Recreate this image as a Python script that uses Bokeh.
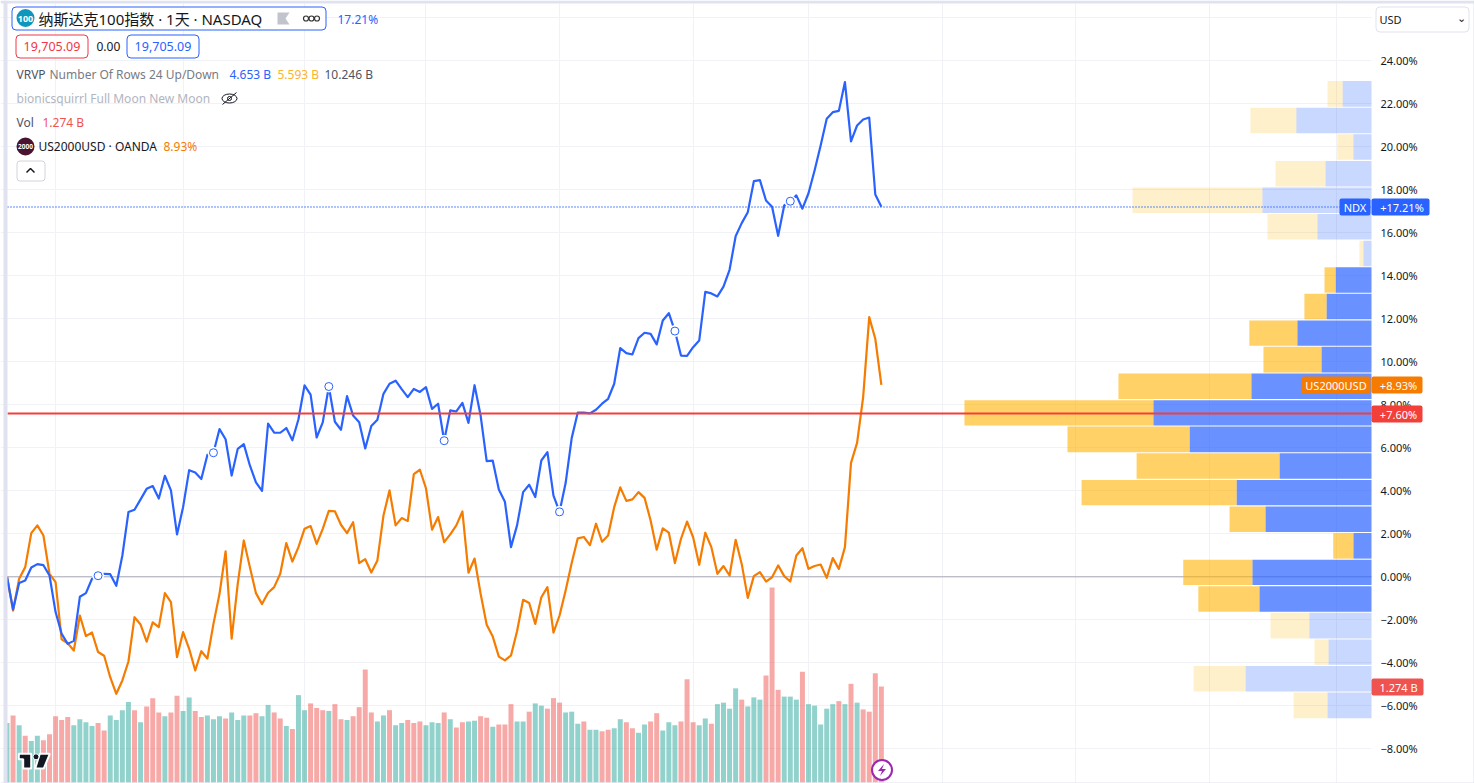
from bokeh.plotting import figure
from bokeh.embed import file_html
from bokeh.resources import INLINE
from bokeh.models import (Range1d, FixedTicker, Label, BoxAnnotation, ColumnDataSource)

# ---------- data ----------
ndx = [0.0,-1.52,-0.29,-0.17,0.43,0.59,0.54,0.06,-1.64,-2.65,
       -3.12,-2.98,-0.93,-0.76,-0.09,0.05,0.14,0.12,-0.42,0.99,
       3.01,3.12,3.6,4.09,4.22,3.64,4.7,4.02,1.97,3.24,
       4.96,4.85,4.55,5.67,5.77,6.87,6.40,4.71,5.95,6.17,
       5.18,4.39,4.0,7.12,6.71,6.70,6.92,6.35,7.33,8.90,
       8.47,6.48,7.18,8.85,7.21,6.84,8.40,7.5,7.19,5.97,
       7.01,7.30,8.51,8.98,9.12,8.73,8.36,8.74,8.60,8.82,
       7.81,8.05,6.33,7.74,7.69,8.09,7.16,8.91,7.50,5.38,
       5.40,4.06,3.49,1.38,2.39,3.94,4.28,3.71,5.41,5.80,
       3.78,3.02,4.36,6.45,7.64,7.64,7.60,7.77,8.05,8.28,
       8.98,10.64,10.40,10.34,11.10,11.35,11.30,10.81,11.92,12.26,
       11.43,10.29,10.28,10.68,10.99,13.25,13.18,13.04,13.50,14.28,
       15.84,16.45,16.96,18.40,18.45,17.50,17.21,15.86,17.27,17.47,
       17.74,17.12,17.84,18.90,20.06,21.30,21.61,21.67,23.01,20.25,
       20.99,21.27,21.36,17.78,17.21]
us2000 = [0.0,-1.57,-0.09,0.45,2.03,2.39,1.92,0.14,-0.25,-2.91,
          -3.09,-3.43,-1.80,-2.76,-2.59,-3.50,-3.67,-4.67,-5.44,-4.82,
          -3.94,-1.88,-2.22,-3.02,-2.12,-2.34,-0.76,-1.18,-3.74,-2.57,
          -3.35,-4.36,-3.46,-3.80,-2.19,-0.79,1.18,-2.88,-0.33,1.69,
          0.45,-0.76,-1.27,-0.74,-0.48,0.14,1.57,0.71,1.38,2.23,
          2.36,1.53,2.23,3.07,3.05,2.42,2.03,2.54,0.64,0.82,
          0.20,0.76,2.85,4.02,2.39,2.73,2.59,4.78,4.98,4.12,
          2.19,2.78,1.61,1.97,2.39,3.04,0.19,0.85,-0.79,-2.23,
          -2.78,-3.71,-3.89,-3.66,-2.53,-1.07,-1.22,-2.19,-0.95,-0.48,
          -2.60,-1.80,-0.64,0.64,1.79,1.85,1.47,2.47,1.63,1.92,
          3.24,4.16,3.53,3.60,3.94,3.67,2.62,1.26,2.25,2.05,
          0.64,1.77,2.57,1.84,0.56,2.05,1.38,0.14,0.50,0.06,
          1.72,0.60,-0.98,0.03,0.22,-0.22,-0.02,0.53,0.03,-0.22,
          0.99,1.33,0.37,0.50,0.57,-0.05,0.87,0.37,1.38,5.30,
          6.23,8.36,12.08,11.07,8.93]
volume = [.79,.89,.76,.62,.55,.62,.56,.64,.88,.83,
          .87,.76,.84,.80,.75,.79,.69,.89,.83,.96,
          1.07,.96,.80,1.01,1.12,.93,.88,.93,1.15,.95,
          1.13,.95,.87,.89,.84,.88,.85,.93,.83,.89,
          .89,.92,.88,1.03,.93,.85,.75,.71,1.16,.96,
          1.05,.99,.96,.95,1.04,.84,.83,.88,1.00,1.50,
          .93,.81,.89,.96,.76,.79,.83,.79,.81,.76,
          .80,.79,.93,.84,
          .73,.80,.81,.82,.88,.86,.74,.77,.77,1.04,
          .81,.81,.94,1.05,1.02,.98,1.12,1.06,.93,.94,
          .78,.81,.70,.70,.68,.70,.72,.84,.80,.72,
          .66,.77,.81,.92,.69,.80,.76,.81,1.37,.80,
          .76,.85,.78,1.04,1.06,.98,1.25,1.10,1.01,1.13,
          1.10,1.42,2.59,1.23,1.14,1.14,1.10,1.47,1.04,1.02,
          .77,.98,1.04,1.08,1.04,1.31,1.06,.97,.94,1.45,1.274]
vol_dir = ("grgrggrrrr" "rggggrrggg" "grgrrrgrrg" "grrgggrggg" "rrggrrgrgg"
           "rrrgrrgrrr" "rggrggrrrg" "ggrg"
           "rrggrrgrrr" "ggrggrrrgg" "grggrrggrr" "ggrrgggrrr" "ggrggggrgg"
           "grrrgggrgg" "gggrgrgrrrr")
moon_days = [15, 34, 53, 72, 91, 110, 129]
vp_edges = [23.08,21.84,20.61,19.37,18.13,16.90,15.66,14.42,13.19,11.95,10.72,9.48,8.24,
            7.01,5.77,4.53,3.30,2.06,0.82,-0.41,-1.65,-2.89,-4.12,-5.36,-6.60]
vp_up = [.086,.224,.054,.137,.325,.161,.024,.107,.134,.221,.149,.358,.650,.542,.274,.402,
         .316,.054,.355,.334,.185,.128,.375,.131]
vp_down = [.045,.137,.048,.149,.387,.149,.012,.033,.066,.143,.173,.396,.563,.364,.426,.462,
           .107,.060,.206,.182,.116,.042,.155,.101]
vp_value_area = [0,0,0,0,0,0,0,1,1,1,1,1,1,1,1,1,1,1,1,1,0,0,0,0]
tick_values = [-8,-6,-4,-2,0,2,4,6,8,10,12,14,16,18,20,22,24]
tick_labels = ["−8.00%","−6.00%","−4.00%","−2.00%","0.00%","2.00%","4.00%","6.00%","8.00%",
               "10.00%","12.00%","14.00%","16.00%","18.00%","20.00%","22.00%","24.00%"]
grid_days = [8,29,49,69,91,113,132,154,176,198,219]
last_ndx_line = 17.20
last_close_line = 7.60

BLUE, ORANGE, RED = "#2962ff", "#f57c00", "#f23f3a"
INK, FONT = "#131722", "Noto Sans"
TITLE_FONT = "'Noto Sans', 'Noto Sans CJK SC'"

# ---------- pixel model of the page ----------
W, H = 1474, 783
PANE_L, PANE_R, PANE_B = 7, 1371, 782
PX0, PXD = 6.5, 6.072          # pixel of day 0, pixels per day
PY0, PYD = 576.3, 21.5         # pixel of 0 %, pixels per 1 %
X = lambda px: (px - PX0) / PXD
Y = lambda py: (PY0 - py) / PYD
VOL_PX = 75.33                 # pixels per billion
VP_K = 0.00298                 # billions per pixel in the volume profile

p = figure(width=W, height=H, output_backend="svg", toolbar_location=None, tools="",
           x_range=Range1d(X(0), X(W)), y_range=Range1d(Y(H), Y(0)),
           x_axis_location=None, y_axis_location="right",
           min_border_left=0, min_border_right=0, min_border_top=0, min_border_bottom=0,
           background_fill_color="white", border_fill_color="white", outline_line_color=None,
           styles={"position": "absolute", "left": "0px", "top": "0px"})

p.extra_y_ranges = {"vol": Range1d((PANE_B - H) / VOL_PX, PANE_B / VOL_PX)}
p.extra_x_ranges = {"vp": Range1d(PANE_R * VP_K, (PANE_R - W) * VP_K)}

# axis and grids
ax = p.yaxis[0]
ax.fixed_location = X(PANE_R)
ax.ticker = FixedTicker(ticks=tick_values)
ax.major_label_overrides = dict(zip(tick_values, tick_labels))
ax.axis_line_color = None
ax.major_tick_line_color = None
ax.minor_tick_line_color = None
ax.major_tick_out = 0
ax.major_label_standoff = 9
ax.major_label_text_color = INK
ax.major_label_text_font = FONT
ax.major_label_text_font_size = "11px"

GRID = "#f1f2f5"
p.ygrid[0].ticker = FixedTicker(ticks=tick_values + [26])
p.ygrid[0].grid_line_color = GRID
p.xgrid[0].ticker = FixedTicker(ticks=grid_days)
p.xgrid[0].grid_line_color = GRID


def box(l, t, r, b, fill="white", line=None, radius=0, width=1, level="annotation"):
    p.add_layout(BoxAnnotation(left=l, right=r, top=t, bottom=b, left_units="canvas", right_units="canvas",
                               top_units="canvas", bottom_units="canvas", fill_color=fill, fill_alpha=1,
                               line_color=line, line_alpha=1 if line else 0, line_width=width,
                               border_radius=radius, level=level, editable=False))


def txt(x, y, s, color=INK, size=12, font=FONT, align="left", style="normal"):
    p.add_layout(Label(x=x, y=y, x_units="canvas", y_units="canvas", text=s, text_color=color,
                       text_font=font, text_font_size=f"{size}px", text_align=align,
                       text_baseline="middle", text_font_style=style, level="annotation"))


# price-scale column hides the grid
box(PANE_R, 0, W, H, "white", level="underlay")

pane_x = [X(PANE_L), X(PANE_R)]
# zero line
p.line(pane_x, [0, 0], line_color="#a7a9b6", line_width=1)

# volume bars
days = list(range(len(ndx)))
bar_src = ColumnDataSource(dict(x=days, top=volume,
                                c=["#26a69a" if d == "g" else "#ef5350" for d in vol_dir]))
p.vbar(x="x", top="top", bottom=0, width=0.82, source=bar_src, fill_color="c", fill_alpha=0.5,
       line_color=None, y_range_name="vol")

# volume profile
pad = 0.025
vp_src = ColumnDataSource(dict(
    top=[e - pad for e in vp_edges[:-1]], bottom=[e + pad for e in vp_edges[1:]],
    up=vp_up, total=[u + d for u, d in zip(vp_up, vp_down)],
    a_up=[0.7 if v else 0.25 for v in vp_value_area],
    a_down=[0.6 if v else 0.2 for v in vp_value_area]))
p.quad(left=0, right="up", top="top", bottom="bottom", source=vp_src, x_range_name="vp",
       fill_color=BLUE, fill_alpha="a_up", line_color=None)
p.quad(left="up", right="total", top="top", bottom="bottom", source=vp_src, x_range_name="vp",
       fill_color="#ffb300", fill_alpha="a_down", line_color=None)

# series
p.line(days, us2000, line_color=ORANGE, line_width=2.2, line_join="round")
p.line(days, ndx, line_color=BLUE, line_width=2.2, line_join="round")
moon_y = [ndx[d] for d in moon_days]
p.scatter(moon_days, moon_y, size=12, fill_color="white", line_color=None)
p.scatter(moon_days, moon_y, size=8, fill_color="white", line_color=BLUE, line_width=1)

# price lines
p.line(pane_x, [last_ndx_line] * 2, line_color=BLUE, line_width=1.4, line_dash="1 2")
p.line(pane_x, [last_close_line] * 2, line_color=RED, line_width=2)

# outer frame strips
EDGE = "#e0e3ef"
box(0, 0, W, 3, EDGE)
box(3, 0, 7, H, EDGE)
box(0, 782, W, H, EDGE)
box(1473, 0, W, H, EDGE)

# USD selector
box(1375.5, 6.5, 1468.5, 31.5, "white", EDGE, 4)
txt(1379, 19, "USD", INK, 11)
txt(1461, 18, "⌄", INK, 11, "DejaVu Sans", "center")

# title row
box(11.5, 6.5, 325.5, 29.5, "white", BLUE, 4)
box(16, 8.5, 34, 26.5, "#0e97bd", None, 9)
txt(25, 18, "100", "white", 9, FONT, "center", "bold")
txt(38, 18, "纳斯达克100指数 · 1天 · NASDAQ", INK, 15, TITLE_FONT)
txt(337, 19, "17.21%", BLUE, 12)

# OHLC row
box(15.5, 34.5, 87.5, 57.5, "white", "#f23645", 4)
txt(51.5, 46, "19,705.09", "#f23645", 12.5, FONT, "center")
txt(96, 46, "0.00", INK, 12)
box(126.5, 34.5, 198.5, 57.5, "white", BLUE, 4)
txt(162.5, 46, "19,705.09", BLUE, 12.5, FONT, "center")

# indicator rows
txt(16, 74, "VRVP", "#50535e", 12)
txt(49, 74, "Number Of Rows 24 Up/Down", "#787b86", 12)
txt(229, 74, "4.653 B", BLUE, 12)
txt(277, 74, "5.593 B", "#fbb32b", 12)
txt(324, 74, "10.246 B", "#50535e", 12)
txt(16, 98, "bionicsquirrl Full Moon New Moon", "#b2b5be", 12)
txt(16, 122, "Vol", "#50535e", 12)
txt(42, 122, "1.274 B", "#ef5350", 12)
box(16, 137, 34, 155, "#4a1430", None, 9)
txt(25, 146, "2000", "white", 6.5, FONT, "center", "bold")
txt(38, 146, "US2000USD · OANDA", INK, 12)
txt(163, 146, "8.93%", ORANGE, 12)
box(16.5, 160.5, 44.5, 180.5, "white", "#d1d4dc", 3)

# price tags
box(1339, 198, 1370, 215, BLUE, None, 2)
txt(1354.5, 206.5, "NDX", "white", 11, FONT, "center")
box(1371, 198, 1429, 215, BLUE, None, 2)
txt(1401.5, 206.5, "+17.21%", "white", 11, FONT, "center")
box(1301, 376, 1370, 393, ORANGE, None, 2)
txt(1335.5, 384.5, "US2000USD", "white", 11, FONT, "center")
box(1371, 376, 1422, 393, ORANGE, None, 2)
txt(1398, 384.5, "+8.93%", "white", 11, FONT, "center")
box(1371, 405, 1422, 422, "#f23f3a", None, 2)
txt(1398, 413.5, "+7.60%", "white", 11, FONT, "center")
box(1371, 678, 1423, 695, "#ef5350", None, 2)
txt(1398, 686.5, "1.274 B", "white", 11, FONT, "center")


# small pictograms, drawn above the boxes
def poly(pts, color, **kw):
    p.patch([X(a) for a, _ in pts], [Y(b) for _, b in pts], fill_color=color, level="overlay",
            line_color=kw.get("halo"), line_width=kw.get("lw", 1))


def stroke(pts, color, lw=1.5):
    p.line([X(a) for a, _ in pts], [Y(b) for _, b in pts], line_color=color, line_width=lw, level="overlay")


poly([(277, 12), (289, 12), (285, 18), (289, 24), (277, 24)], "#c1c4cd")
p.scatter([X(305.5), X(311), X(316.5)], [Y(18)] * 3, size=5, fill_color="white", line_color="#333", line_width=1.2,
          level="overlay")
stroke([(26, 172), (30, 168), (34, 172)], INK, 1.5)
p.ellipse([X(229)], [Y(98)], width=15, height=9, width_units="screen", height_units="screen",
          fill_color=None, line_color=INK, line_width=1, level="overlay")
p.scatter([X(229)], [Y(98)], size=4, fill_color=None, line_color=INK, line_width=1, level="overlay")
stroke([(222, 104), (236, 92)], INK, 1)

# TradingView mark
poly([(18.3, 753.3), (30.7, 753.3), (30.7, 768), (22.7, 768), (22.7, 758.7), (18.3, 758.7)], INK, halo="white", lw=2)
poly([(39.3, 753.3), (49.3, 753.3), (43.3, 768), (34.7, 768)], INK, halo="white", lw=2)
p.scatter([X(35.5)], [Y(756.3)], size=6, fill_color=INK, line_color="white", line_width=1, level="overlay")

# lightning button
p.scatter([X(881.5)], [Y(769.5)], size=20, fill_color="white", line_color="#9c27b0", line_width=2, level="overlay")
poly([(883.5, 763.5), (877.5, 770.5), (881.5, 770.5), (879.5, 775.5), (885.5, 768.5), (881.5, 768.5)], "#9c27b0")

open("out.html", "w").write(file_html(p, INLINE))
